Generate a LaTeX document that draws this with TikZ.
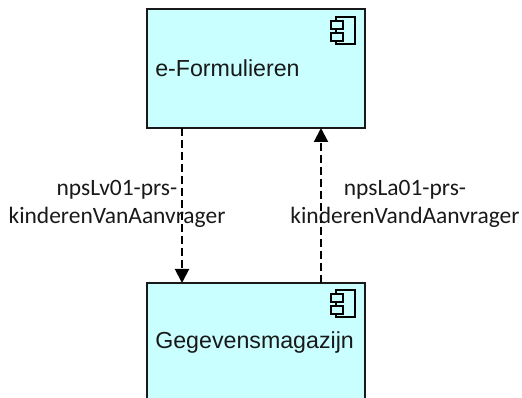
\documentclass[tikz,border=0pt]{standalone}
\usepackage{fontspec}
\setmainfont{Liberation Sans}
\newfontfamily\carl{Carlito}
\usetikzlibrary{arrows.meta}
\definecolor{boxfill}{HTML}{C9FFFF}
\tikzset{
  compbox/.style={draw=black!90,line width=1.5pt,fill=boxfill,minimum width=163.5pt,inner sep=0pt,outer sep=0pt,anchor=north west},
  boxtext/.style={font=\fontsize{17.4pt}{20pt}\selectfont,text=black!90,inner sep=0pt,anchor=base west},
  flowlabel/.style={font=\carl\fontsize{17.6pt}{20.6pt}\selectfont,text=black!90,inner sep=0pt,align=center,anchor=center},
  flow/.style={draw=black,line width=1.5pt,dash pattern=on 6pt off 3pt,-{Triangle[length=10.5pt,width=10.5pt]}},
  icon/.style={draw=black,line width=1.1pt,fill=boxfill}
}
\begin{document}
\begin{tikzpicture}[x=0.75pt,y=-0.75pt]
\useasboundingbox (0,0) rectangle (522,398);
\clip (0,0) rectangle (522,398);
\node[compbox,minimum height=89.25pt] (top) at (147,9) {};
\node[compbox,minimum height=105pt] (bottom) at (147,283) {};
\draw[flow] ([xshift=-55.5pt]top.south) -- ([xshift=-55.5pt]bottom.north);
\draw[flow] ([xshift=48.75pt]bottom.north) -- ([xshift=48.75pt]top.south);
\node[boxtext] (toptext) at (155,77) {e-Formulieren};
\node[boxtext] (bottomtext) at (155,349) {Gegevensmagazijn};
\node[flowlabel] (leftlabel) at (117,204) {npsLv01-prs-\\kinderenVanAanvrager};
\node[flowlabel] (rightlabel) at (405,204) {npsLa01-prs-\\kinderenVandAanvrager};
\foreach \dy in {0,273}{
  \draw[icon] (336,17+\dy) rectangle (355,44+\dy);
  \draw[icon] (331,21+\dy) rectangle (343,29+\dy);
  \draw[icon] (331,33+\dy) rectangle (343,41+\dy);
}
\end{tikzpicture}
\end{document}
